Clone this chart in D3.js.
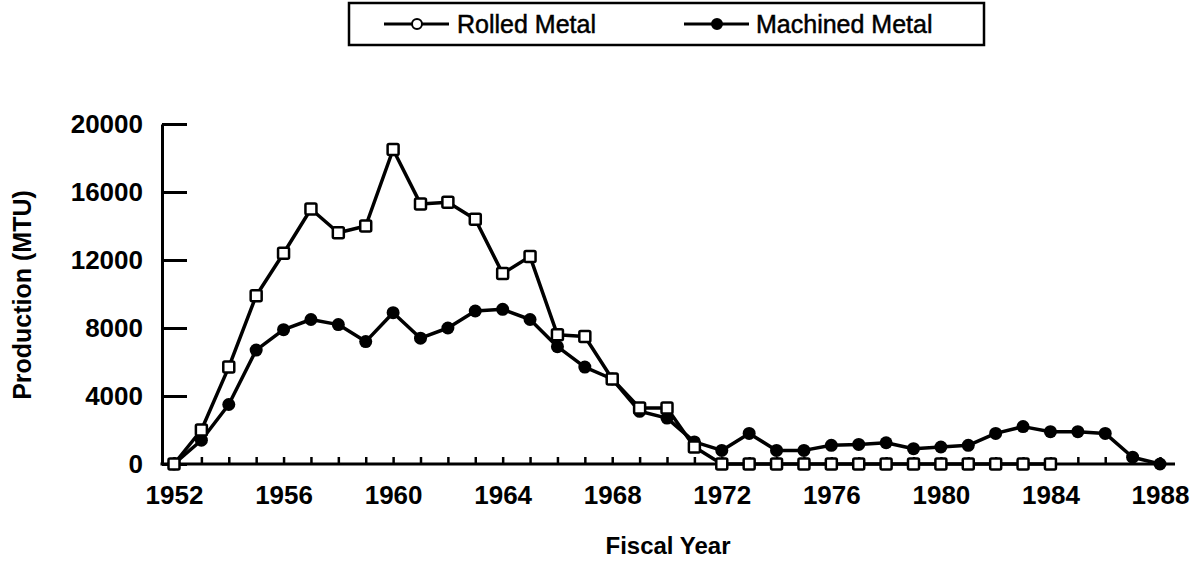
<!DOCTYPE html>
<html>
<head>
<meta charset="utf-8">
<script src="https://cdn.jsdelivr.net/npm/d3@7"></script>
<style>
  body { margin: 0; background: #fff; }
  svg { display: block; font-family: "Liberation Sans", Arial, sans-serif; }
</style>
</head>
<body>
<div id="chart"></div>
<script>
// Fiscal years
let machinedYears = [1952, 1953, 1954, 1955, 1956, 1957, 1958, 1959, 1960, 1961, 1962, 1963,
  1964, 1965, 1966, 1967, 1968, 1969, 1970, 1971, 1972, 1973, 1974, 1975, 1976, 1977, 1978,
  1979, 1980, 1981, 1982, 1983, 1984, 1985, 1986, 1987, 1988];
let rolledYears = [1952, 1953, 1954, 1955, 1956, 1957, 1958, 1959, 1960, 1961, 1962, 1963,
  1964, 1965, 1966, 1967, 1968, 1969, 1970, 1971, 1972, 1973, 1974, 1975, 1976, 1977, 1978,
  1979, 1980, 1981, 1982, 1983, 1984];

// Production (MTU)
let rolledValues = [0, 2000, 5700, 9900, 12400, 15000, 13600, 14000, 18500, 15300, 15400, 14400,
  11200, 12200, 7600, 7500, 5000, 3300, 3300, 1000, 0, 0, 0, 0, 0, 0, 0,
  0, 0, 0, 0, 0, 0];
let machinedValues = [0, 1400, 3500, 6700, 7900, 8500, 8200, 7200, 8900, 7400, 8000, 9000,
  9100, 8500, 6900, 5700, 5000, 3100, 2700, 1300, 800, 1800, 800, 800, 1100, 1150, 1250,
  900, 1000, 1100, 1800, 2200, 1900, 1900, 1800, 400, 0];

let yTicks = [0, 4000, 8000, 12000, 16000, 20000];
let seriesNames = ["Rolled Metal", "Machined Metal"];

let rolled = rolledYears.map((y, i) => ({ year: y, value: rolledValues[i] }));
let machined = machinedYears.map((y, i) => ({ year: y, value: machinedValues[i] }));

let width = 1197, height = 569;

let svg = d3.select("#chart")
  .append("svg")
  .attr("width", width)
  .attr("height", height);

let x = d3.scaleLinear().domain([1952, 1988]).range([174, 1160]);
let y = d3.scaleLinear().domain([0, 20000]).range([464, 124]);
let axisX = 162;

// Y axis (ticks point inward)
let yAxis = svg.append("g")
  .attr("transform", "translate(" + axisX + ",0)")
  .call(d3.axisLeft(y)
    .tickValues(yTicks)
    .tickFormat(d3.format("d"))
    .tickSizeInner(-25)
    .tickSizeOuter(0)
    .tickPadding(19));
yAxis.select(".domain").attr("stroke-width", 3);
yAxis.selectAll(".tick line").attr("stroke-width", 3);
yAxis.selectAll("text")
  .attr("font-size", 26)
  .attr("font-weight", "bold")
  .attr("font-family", "'Liberation Sans', Arial, sans-serif")
  .attr("fill", "#000");

// X axis (small ticks every year, labels every four)
let xAxis = svg.append("g")
  .attr("transform", "translate(0," + y(0) + ")")
  .call(d3.axisBottom(x)
    .tickValues(machinedYears)
    .tickSizeInner(-7)
    .tickSizeOuter(0)
    .tickPadding(22)
    .tickFormat(d => d % 4 === 0 ? d : ""));
xAxis.select(".domain").remove();
xAxis.selectAll(".tick line").attr("stroke-width", 2.5);
xAxis.selectAll("text")
  .attr("font-size", 26)
  .attr("font-weight", "bold")
  .attr("font-family", "'Liberation Sans', Arial, sans-serif")
  .attr("fill", "#000");

svg.append("line")
  .attr("x1", axisX - 1.5).attr("x2", 1175)
  .attr("y1", y(0)).attr("y2", y(0))
  .attr("stroke", "#000")
  .attr("stroke-width", 3);

// Axis titles
svg.append("text")
  .attr("text-anchor", "middle")
  .attr("x", 668)
  .attr("y", 554)
  .attr("font-size", 24)
  .attr("font-weight", "bold")
  .text("Fiscal Year");

svg.append("text")
  .attr("text-anchor", "middle")
  .attr("transform", "translate(31,295) rotate(-90)")
  .attr("font-size", 25)
  .attr("font-weight", "bold")
  .text("Production (MTU)");

// Lines
let line = d3.line()
  .x(d => x(d.year))
  .y(d => y(d.value));

svg.append("path")
  .datum(machined)
  .attr("fill", "none")
  .attr("stroke", "#000")
  .attr("stroke-width", 3.5)
  .attr("stroke-linejoin", "round")
  .attr("d", line);

svg.append("path")
  .datum(rolled)
  .attr("fill", "none")
  .attr("stroke", "#000")
  .attr("stroke-width", 3.5)
  .attr("stroke-linejoin", "round")
  .attr("d", line);

// Markers
svg.append("g")
  .selectAll("circle")
  .data(machined)
  .enter()
  .append("circle")
  .attr("cx", d => x(d.year))
  .attr("cy", d => y(d.value))
  .attr("r", 6.5)
  .attr("fill", "#000");

let sq = 11;
svg.append("g")
  .selectAll("rect")
  .data(rolled)
  .enter()
  .append("rect")
  .attr("x", d => x(d.year) - sq / 2)
  .attr("y", d => y(d.value) - sq / 2)
  .attr("width", sq)
  .attr("height", sq)
  .attr("rx", 1.5)
  .attr("fill", "#fff")
  .attr("stroke", "#000")
  .attr("stroke-width", 2.5);

// Legend
let legend = svg.append("g");
legend.append("rect")
  .attr("x", 349).attr("y", 3)
  .attr("width", 635).attr("height", 42)
  .attr("fill", "none")
  .attr("stroke", "#000")
  .attr("stroke-width", 2.5);

let legendItems = [
  { name: seriesNames[0], x1: 384, x2: 449, mx: 417, filled: false, tx: 457 },
  { name: seriesNames[1], x1: 684, x2: 749, mx: 717, filled: true, tx: 756 }
];
let ly = 24;
legendItems.forEach(item => {
  legend.append("line")
    .attr("x1", item.x1).attr("x2", item.x2)
    .attr("y1", ly).attr("y2", ly)
    .attr("stroke", "#000")
    .attr("stroke-width", 3);
  legend.append("circle")
    .attr("cx", item.mx).attr("cy", ly)
    .attr("r", 5)
    .attr("fill", item.filled ? "#000" : "#fff")
    .attr("stroke", "#000")
    .attr("stroke-width", 2);
  legend.append("text")
    .attr("x", item.tx)
    .attr("y", ly)
    .attr("dy", "0.36em")
    .attr("font-size", 25)
    .attr("stroke", "#000")
    .attr("stroke-width", 0.5)
    .text(item.name);
});
</script>
</body>
</html>
